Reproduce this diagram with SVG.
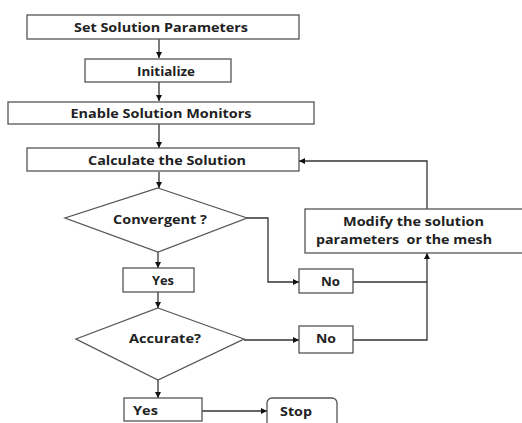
<svg xmlns="http://www.w3.org/2000/svg" width="522" height="423" viewBox="0 0 522 423">
<defs>
<marker id="ah" viewBox="0 0 10 10" refX="10" refY="5" markerWidth="7" markerHeight="6" markerUnits="userSpaceOnUse" orient="auto">
<path d="M0,0 L10,5 L0,10 z" fill="#111"/>
</marker>
</defs>
<style>
.box{fill:#fff;stroke:#555;stroke-width:1.3}
.t{font-family:"Open Sans","Liberation Sans",sans-serif;font-weight:bold;font-size:13px;fill:#222;white-space:pre}
.c{fill:none;stroke:#333;stroke-width:1.3}
.a{marker-end:url(#ah)}
</style>
<rect width="522" height="423" fill="#fff"/>
<g id="connectors">
<path class="c a" d="M159,39 V58"/>
<path class="c a" d="M159,82 V101"/>
<path class="c a" d="M159,124 V148"/>
<path class="c a" d="M159,172 V188"/>
<path class="c a" d="M158,252 V268"/>
<path class="c a" d="M158,292 V308"/>
<path class="c a" d="M158,380 V398"/>
<path class="c a" d="M202,411 H267"/>
<path class="c a" d="M247,218 H268 V282 H299"/>
<path class="c a" d="M244,340 H299"/>
<path class="c" d="M353,282 H427"/>
<path class="c a" d="M353,340 H427 V253"/>
<path class="c a" d="M427,209 V161 H299"/>
</g>
<g id="set-params">
<rect class="box" x="27" y="15" width="272" height="24"/>
<text class="t" x="161" y="32" text-anchor="middle" textLength="174" lengthAdjust="spacingAndGlyphs">Set Solution Parameters</text>
</g>
<g id="initialize">
<rect class="box" x="85" y="59" width="146" height="23"/>
<text class="t" x="166" y="76" text-anchor="middle" textLength="58" lengthAdjust="spacingAndGlyphs">Initialize</text>
</g>
<g id="enable-monitors">
<rect class="box" x="8" y="102" width="306" height="22"/>
<text class="t" x="161" y="118" text-anchor="middle" textLength="181" lengthAdjust="spacingAndGlyphs">Enable Solution Monitors</text>
</g>
<g id="calculate">
<rect class="box" x="27" y="148" width="272" height="23"/>
<text class="t" x="167" y="165" text-anchor="middle" textLength="158" lengthAdjust="spacingAndGlyphs">Calculate the Solution</text>
</g>
<g id="convergent">
<polygon class="box" points="158,188 247,218 158,252 65,218"/>
<text class="t" x="160" y="224" text-anchor="middle" textLength="94" lengthAdjust="spacingAndGlyphs">Convergent ?</text>
</g>
<g id="yes1">
<rect class="box" x="123" y="268" width="71" height="24"/>
<text class="t" x="163" y="285" text-anchor="middle" textLength="22" lengthAdjust="spacingAndGlyphs">Yes</text>
</g>
<g id="accurate">
<polygon class="box" points="158,308 244,339 158,380 76,339"/>
<text class="t" x="165" y="343" text-anchor="middle" textLength="72" lengthAdjust="spacingAndGlyphs">Accurate?</text>
</g>
<g id="yes2">
<rect class="box" x="124" y="398" width="78" height="23"/>
<text class="t" x="145.5" y="415" text-anchor="middle" textLength="25" lengthAdjust="spacingAndGlyphs">Yes</text>
</g>
<g id="stop">
<rect class="box" x="267" y="398" width="70" height="40" rx="5" ry="5"/>
<text class="t" x="296" y="416" text-anchor="middle" textLength="32" lengthAdjust="spacingAndGlyphs">Stop</text>
</g>
<g id="no1">
<rect class="box" x="299" y="269" width="54" height="24"/>
<text class="t" x="330.5" y="286" text-anchor="middle" textLength="19" lengthAdjust="spacingAndGlyphs">No</text>
</g>
<g id="no2">
<rect class="box" x="299" y="326" width="54" height="27"/>
<text class="t" x="326" y="343" text-anchor="middle" textLength="20" lengthAdjust="spacingAndGlyphs">No</text>
</g>
<g id="modify">
<rect class="box" x="305" y="209" width="225" height="44"/>
<text class="t" x="413.5" y="226" text-anchor="middle" textLength="141" lengthAdjust="spacingAndGlyphs">Modify the solution</text>
<text class="t" x="404" y="244" text-anchor="middle" textLength="176" lengthAdjust="spacingAndGlyphs">parameters  or the mesh</text>
</g>
</svg>
